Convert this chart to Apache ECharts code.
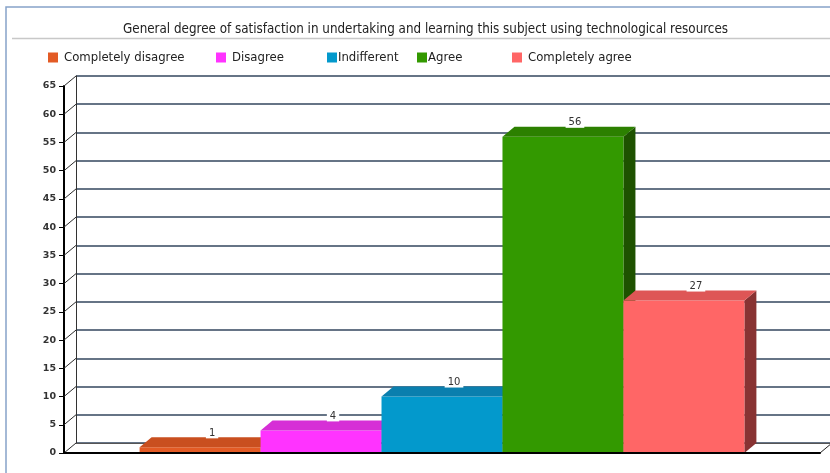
<!DOCTYPE html>
<html>
<head>
<meta charset="utf-8">
<script src="https://cdn.jsdelivr.net/npm/echarts@6/dist/echarts.min.js"></script>
<style>
  html, body { margin: 0; padding: 0; background: #ffffff; }
  #chart { width: 830px; height: 473px; }
</style>
</head>
<body>
<div id="chart"></div>
<script>
// Survey answers: one group of five answer bars
const chartTitle = 'General degree of satisfaction in undertaking and learning this subject using technological resources';
const seriesNames = ['Completely disagree', 'Disagree', 'Indifferent', 'Agree', 'Completely agree'];
const seriesValues = [1, 4, 10, 56, 27];
const categories = [''];
const yTicks = [0, 5, 10, 15, 20, 25, 30, 35, 40, 45, 50, 55, 60, 65];

// Face colours for each bar: front, top, side
const frontColors = ['#e35b25', '#ff33ff', '#0399cc', '#339900', '#ff6666'];
const topColors = ['#c94f1f', '#d62fd6', '#0a7fae', '#2c8000', '#de5656'];
const sideColors = ['#8a3514', '#8f208f', '#055f82', '#1e5200', '#883333'];
const legendLeft = [48, 216, 327, 417, 512];

// Depth offset of the pseudo-3D look
const DX = 12, DY = -10;
const GROUP_FRAC = 0.8;

const FONT = '"Liberation Sans Narrow", "DejaVu Sans Condensed", "Noto Sans", sans-serif';

function barRenderer(idx) {
  return function (params, api) {
    const v = api.value(1);
    const base = api.coord([api.value(0), 0]);
    const top = api.coord([api.value(0), v]);
    const catW = api.size([1, 0])[0];
    const groupW = catW * GROUP_FRAC;
    const bw = groupW / seriesNames.length;
    const x0 = base[0] - groupW / 2 + idx * bw;
    const x1 = x0 + bw;
    const yt = top[1], yb = base[1];
    return {
      type: 'group',
      children: [
        { type: 'polygon', shape: { points: [[x1, yt], [x1 + DX, yt + DY], [x1 + DX, yb + DY], [x1, yb]] },
          style: { fill: sideColors[idx] } },
        { type: 'rect', shape: { x: x0, y: yt, width: bw, height: yb - yt },
          style: { fill: frontColors[idx] } },
        { type: 'polygon', shape: { points: [[x0, yt], [x1, yt], [x1 + DX, yt + DY], [x0 + DX, yt + DY]] },
          style: { fill: topColors[idx] } },
        { type: 'text', x: (x0 + x1) / 2 + DX, y: yt + DY + 1,
          style: { text: String(v), fill: '#333', font: '10px "DejaVu Sans", sans-serif',
                   align: 'center', verticalAlign: 'bottom',
                   backgroundColor: '#ffffff', padding: [1, 3, 0, 3] } }
      ]
    };
  };
}

// Diagonal connectors from the front value axis to the back wall
function connectorRenderer(params, api) {
  const p = api.coord([0, api.value(0)]);
  const catW = api.size([1, 0])[0];
  const left = p[0] - catW / 2;
  return {
    type: 'line',
    shape: { x1: left, y1: p[1], x2: left + DX, y2: p[1] + DY },
    style: { stroke: '#2b2b2b', lineWidth: 1 }
  };
}

// Right edge of the floor
function floorRenderer(params, api) {
  const p = api.coord([0, 0]);
  const catW = api.size([1, 0])[0];
  const right = p[0] + catW / 2;
  return {
    type: 'line',
    shape: { x1: right, y1: p[1], x2: right + DX, y2: p[1] + DY },
    style: { stroke: '#222', lineWidth: 1 }
  };
}

const series = seriesNames.map((name, i) => ({
  name: name,
  type: 'custom',
  xAxisIndex: 1,
  yAxisIndex: 1,
  itemStyle: { color: frontColors[i] },
  renderItem: barRenderer(i),
  data: [[0, seriesValues[i]]],
  z: 3
}));
series.unshift({
  type: 'custom', xAxisIndex: 1, yAxisIndex: 1, silent: true,
  renderItem: connectorRenderer,
  data: yTicks.map(t => [t]),
  encode: { y: 0 },
  z: 2
}, {
  type: 'custom', xAxisIndex: 1, yAxisIndex: 1, silent: true,
  renderItem: floorRenderer,
  data: [[0, 0]],
  z: 2
});

const legends = seriesNames.map((name, i) => ({
  data: [{ name: name, icon: 'rect' }],
  left: legendLeft[i],
  top: 51,
  padding: 0,
  itemWidth: 10,
  itemHeight: 10,
  itemGap: 4,
  selectedMode: false,
  textStyle: { fontFamily: FONT, fontSize: 13, color: '#222', padding: [0, 0, 0, i === 2 || i === 3 ? -4 : 1] }
}));

const chart = echarts.init(document.getElementById('chart'), null, { renderer: 'canvas' });
chart.setOption({
  backgroundColor: '#ffffff',
  animation: false,
  title: {
    text: chartTitle,
    left: 118,
    top: 18,
    textStyle: { fontFamily: FONT, fontSize: 13.3, fontWeight: 'normal', color: '#222' }
  },
  legend: legends,
  graphic: [
    { type: 'polyline', shape: { points: [[6, 473], [6, 7], [830, 7]] },
      style: { stroke: '#86a3c9', lineWidth: 1.5, fill: null } },
    { type: 'line', shape: { x1: 12, y1: 38.5, x2: 830, y2: 38.5 },
      style: { stroke: '#c8c8c8', lineWidth: 1.5 } }
  ],
  grid: [
    // back wall
    { left: 64 + DX, right: 10 - DX, top: 86 + DY, bottom: 20 - DY },
    // front plane
    { left: 64, right: 10, top: 86, bottom: 20 }
  ],
  xAxis: [
    { gridIndex: 0, type: 'category', data: categories,
      axisLine: { show: true, lineStyle: { color: '#555', width: 1 } },
      axisTick: { show: false }, axisLabel: { show: false } },
    { gridIndex: 1, type: 'category', data: categories, z: 5,
      axisLine: { show: true, lineStyle: { color: '#000', width: 2 } },
      axisTick: { show: false }, axisLabel: { show: false } }
  ],
  yAxis: [
    { gridIndex: 0, type: 'value', min: 0, max: 65, interval: 5,
      axisLine: { show: true, lineStyle: { color: '#333', width: 1 } },
      axisTick: { show: false }, axisLabel: { show: false },
      splitLine: { show: true, lineStyle: { color: '#33465e', width: 1.5 } } },
    { gridIndex: 1, type: 'value', min: 0, max: 65, interval: 5,
      axisLine: { show: true, lineStyle: { color: '#000', width: 2 } },
      axisTick: { show: true, length: 5, lineStyle: { color: '#000', width: 1 } },
      axisLabel: { margin: 8, fontFamily: '"DejaVu Sans", sans-serif', fontSize: 9.5, fontWeight: 'bold', color: '#333' },
      splitLine: { show: false } }
  ],
  series: series
});
</script>
</body>
</html>
